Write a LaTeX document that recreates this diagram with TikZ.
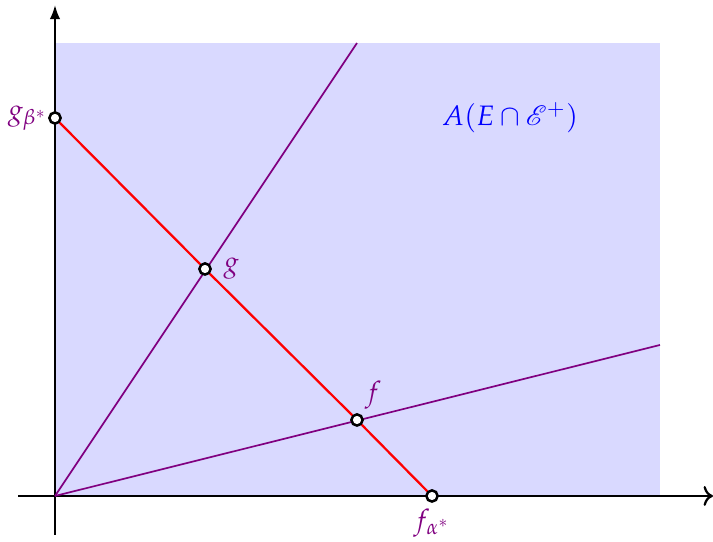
\documentclass[tikz,border=0pt]{standalone}
\usepackage{amsmath,amssymb}
\usepackage{mathpazo}
\usepackage{mathrsfs}
\usepackage{tikz}
\usetikzlibrary{arrows.meta,positioning,calc}

\begin{document}
\begin{tikzpicture}[
    x=0.0125cm, y=0.0125cm,
    axis/.style={thick, black},
    ray/.style={semithick, violet},
    segline/.style={thick, red},
    dot/.style={circle, draw=black, fill=white, line width=0.9pt, inner sep=0pt, minimum size=0.14cm},
    lbl/.style={text=violet, inner sep=2pt}
]
    \useasboundingbox (-55,-46) rectangle (658,496);

    % Shaded region
    \fill[blue!15] (0,0) rectangle (605,453);
    \node[text=blue] (region) at (455,378) {$A(E\cap\mathscr{E}^{+})$};

    % Axes
    \draw[axis, -To] (-37,0) -- (658,0);
    \draw[axis, -{Latex[length=5pt]}] (0,-39) -- (0,491);
    \coordinate (o) at (0,0);

    % Rays from the origin
    \coordinate (rayg) at (302,453);
    \coordinate (rayf) at (605,151);
    \draw[ray] (o) -- (rayg);
    \draw[ray] (o) -- (rayf);

    % Segment and marked points
    \node[dot] (gb) at (0,378) {};
    \node[dot] (fa) at (377,0) {};
    \node[dot] (g) at (150,227) {};
    \node[dot] (f) at (302,76) {};
    \draw[segline] (gb) -- (g) -- (f) -- (fa);

    % Labels
    \node[lbl, left=-2pt of gb] {$g_{\beta^*}$};
    \node[lbl, right=2pt of g] {$g$};
    \node[lbl, above right=0pt and -1pt of f] {$f$};
    \node[lbl, below=0pt of fa] {$f_{\alpha^*}$};
\end{tikzpicture}
\end{document}
